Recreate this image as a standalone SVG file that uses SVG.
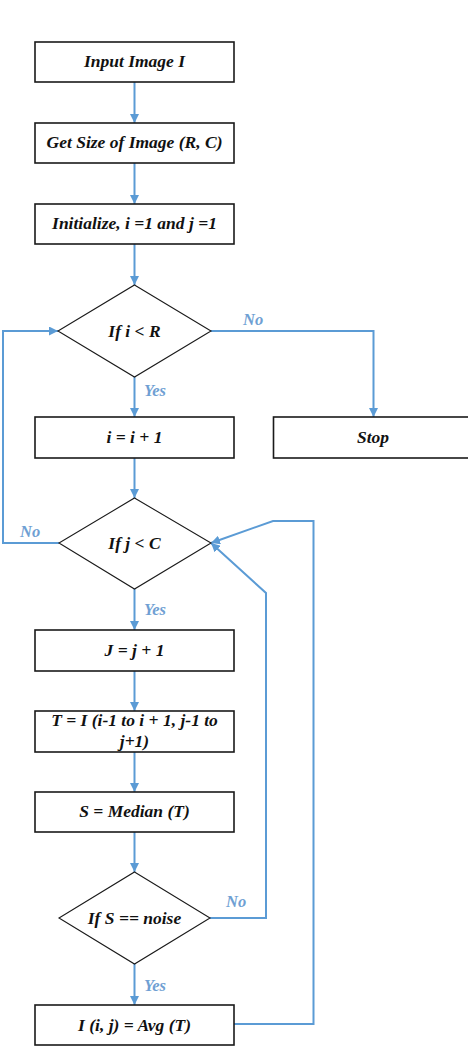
<svg xmlns="http://www.w3.org/2000/svg" width="468" height="1056" viewBox="0 0 468 1056">
<style>
.box{fill:#fff;stroke:#1a1a1a;stroke-width:1.6}
.dia{fill:#fff;stroke:#1a1a1a;stroke-width:1.1}
.t{font-family:"Liberation Serif","Times New Roman",serif;font-style:italic;font-weight:bold;font-size:17.5px;fill:#111;text-anchor:middle}
.lbl{font-family:"Liberation Serif","Times New Roman",serif;font-style:italic;font-weight:bold;font-size:16.5px;fill:#6f9fd3}
.c{fill:none;stroke:#5b9bd5;stroke-width:2}
</style>
<defs>
<marker id="ah" viewBox="0 0 10 10" refX="10" refY="5" markerWidth="4.5" markerHeight="4.5" orient="auto" markerUnits="strokeWidth">
<path d="M0,0 L10,5 L0,10 z" fill="#5b9bd5"/>
</marker>
</defs>
<rect width="468" height="1056" fill="#fff"/>
<g id="connectors">
<line class="c" x1="134.5" y1="82" x2="134.5" y2="123" marker-end="url(#ah)"/>
<line class="c" x1="134.5" y1="163" x2="134.5" y2="204" marker-end="url(#ah)"/>
<line class="c" x1="134.5" y1="244" x2="134.5" y2="285" marker-end="url(#ah)"/>
<polyline class="c" points="211,331 373.5,331 373.5,417" marker-end="url(#ah)"/>
<line class="c" x1="134.5" y1="377" x2="134.5" y2="417" marker-end="url(#ah)"/>
<line class="c" x1="134.5" y1="458" x2="134.5" y2="498" marker-end="url(#ah)"/>
<polyline class="c" points="59,543 3,543 3,331 58,331" marker-end="url(#ah)"/>
<line class="c" x1="134.5" y1="589" x2="134.5" y2="630" marker-end="url(#ah)"/>
<line class="c" x1="134.5" y1="671" x2="134.5" y2="711" marker-end="url(#ah)"/>
<line class="c" x1="134.5" y1="752" x2="134.5" y2="792" marker-end="url(#ah)"/>
<line class="c" x1="134.5" y1="832" x2="134.5" y2="872" marker-end="url(#ah)"/>
<line class="c" x1="134.5" y1="964" x2="134.5" y2="1005" marker-end="url(#ah)"/>
<polyline class="c" points="210,918 266,918 266,593 211,543" marker-end="url(#ah)"/>
<polyline class="c" points="234,1024 313.5,1024 313.5,521 273,521 211,543" marker-end="url(#ah)"/>
</g>
<g id="n1"><rect class="box" x="35" y="42" width="199" height="40"/><text class="t" x="134.5" y="67">Input Image I</text></g>
<g id="n2"><rect class="box" x="35" y="123" width="199" height="40"/><text class="t" x="134.5" y="148">Get Size of Image (R, C)</text></g>
<g id="n3"><rect class="box" x="35" y="204" width="199" height="40"/><text class="t" x="134.5" y="229">Initialize, i =1 and j =1</text></g>
<g id="d1"><polygon class="dia" points="134.5,285 211,331 134.5,377 58,331"/><text class="t" x="134.5" y="337">If i &lt; R</text></g>
<g id="n4"><rect class="box" x="35" y="417" width="199" height="41"/><text class="t" x="134.5" y="443">i = i + 1</text></g>
<g id="stop"><rect class="box" x="273.5" y="417" width="200" height="41"/><text class="t" x="373" y="443">Stop</text></g>
<g id="d2"><polygon class="dia" points="134.5,498 211,543 134.5,589 59,543"/><text class="t" x="134.5" y="549">If j &lt; C</text></g>
<g id="n5"><rect class="box" x="35" y="630" width="199" height="41"/><text class="t" x="134.5" y="656">J = j + 1</text></g>
<g id="n6"><rect class="box" x="35" y="711" width="199" height="41"/><text class="t" x="134.5" y="726">T = I (i-1 to i + 1, j-1 to</text><text class="t" x="134.5" y="747">j+1)</text></g>
<g id="n7"><rect class="box" x="35" y="792" width="199" height="40"/><text class="t" x="134.5" y="817">S = Median (T)</text></g>
<g id="d3"><polygon class="dia" points="134.5,872 210,918 134.5,964 59,918"/><text class="t" x="134.5" y="924">If S == noise</text></g>
<g id="n8"><rect class="box" x="35" y="1005" width="199" height="40"/><text class="t" x="134.5" y="1031">I (i, j) = Avg (T)</text></g>
<g id="labels">
<text class="lbl" x="243" y="325">No</text>
<text class="lbl" x="144" y="396">Yes</text>
<text class="lbl" x="20" y="537">No</text>
<text class="lbl" x="144" y="615">Yes</text>
<text class="lbl" x="226" y="907">No</text>
<text class="lbl" x="144" y="991">Yes</text>
</g>
</svg>
